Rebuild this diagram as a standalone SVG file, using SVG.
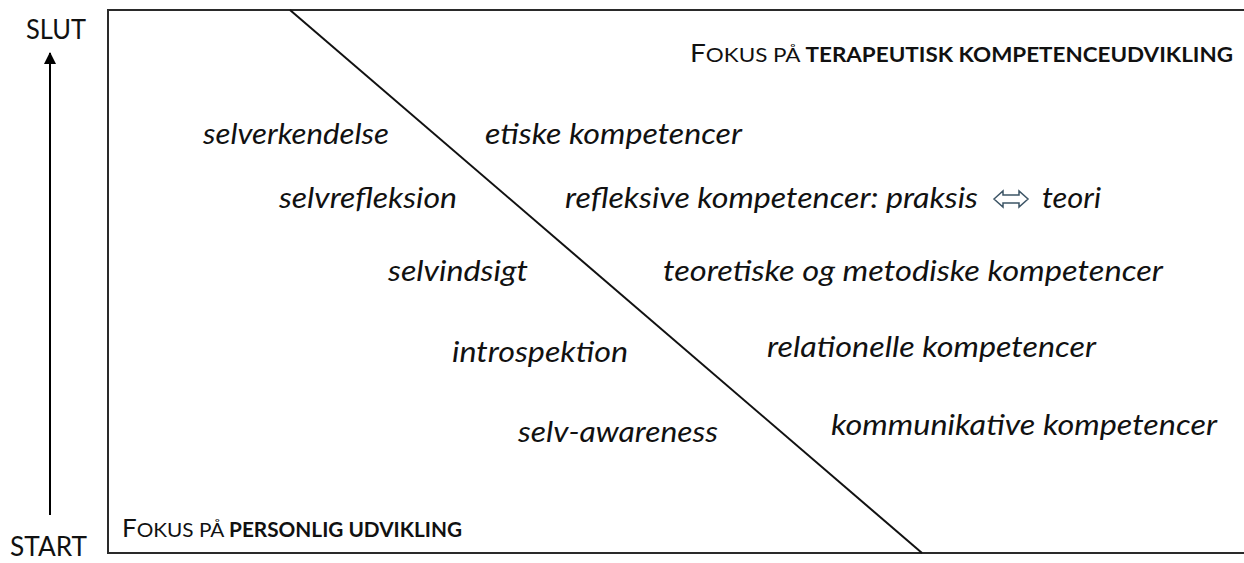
<svg xmlns="http://www.w3.org/2000/svg" width="1244" height="563" viewBox="0 0 1244 563">
<defs>
<style>
.lbl{font-family:Lato,"Open Sans","Liberation Sans",sans-serif;font-size:26px;fill:#111}
.it{font-family:Lato,"Open Sans","Liberation Sans",sans-serif;font-style:italic;font-size:28px;fill:#111}
.frame{fill:none;stroke:#2a2a2a;stroke-width:2}
.sc{font-family:Lato,"Open Sans","Liberation Sans",sans-serif;fill:#111}
</style>
<marker id="ah" markerWidth="12" markerHeight="12" refX="11" refY="6" orient="auto" markerUnits="userSpaceOnUse"><path d="M0,0 L12,6 L0,12 z" fill="#000"/></marker>
</defs>
<rect width="1244" height="563" fill="#fff"/>
<g id="connectors">
<path class="frame" d="M1244,10 H108 V553 H1244"/>
<line x1="290" y1="10" x2="922" y2="553" stroke="#111" stroke-width="2"/>
<line x1="50" y1="515" x2="50" y2="53" stroke="#000" stroke-width="2" marker-end="url(#ah)"/>
</g>
<g id="axis-labels">
<text class="lbl" x="26" y="39" textLength="60" lengthAdjust="spacingAndGlyphs">SLUT</text>
<text class="lbl" x="10" y="556" textLength="77" lengthAdjust="spacingAndGlyphs">START</text>
</g>
<g id="header-top">
<text class="sc" x="690" y="62" textLength="543" lengthAdjust="spacingAndGlyphs"><tspan font-size="25">F</tspan><tspan font-size="20">OKUS PÅ </tspan><tspan font-size="20" font-weight="bold">TERAPEUTISK KOMPETENCEUDVIKLING</tspan></text>
</g>
<g id="header-bottom">
<text class="sc" x="122" y="537" textLength="340" lengthAdjust="spacingAndGlyphs"><tspan font-size="25">F</tspan><tspan font-size="20">OKUS PÅ </tspan><tspan font-size="20" font-weight="bold">PERSONLIG UDVIKLING</tspan></text>
</g>
<g id="node-selverkendelse"><text class="it" x="203" y="144" textLength="186" lengthAdjust="spacingAndGlyphs">selverkendelse</text></g>
<g id="node-selvrefleksion"><text class="it" x="279" y="208" textLength="178" lengthAdjust="spacingAndGlyphs">selvrefleksion</text></g>
<g id="node-selvindsigt"><text class="it" x="388" y="281" textLength="140" lengthAdjust="spacingAndGlyphs">selvindsigt</text></g>
<g id="node-introspektion"><text class="it" x="452" y="362" textLength="176" lengthAdjust="spacingAndGlyphs">introspektion</text></g>
<g id="node-selv-awareness"><text class="it" x="518" y="442" textLength="200" lengthAdjust="spacingAndGlyphs">selv-awareness</text></g>
<g id="node-etiske"><text class="it" x="485" y="144" textLength="257" lengthAdjust="spacingAndGlyphs">etiske kompetencer</text></g>
<g id="node-refleksive">
<text class="it" x="565" y="208" textLength="413" lengthAdjust="spacingAndGlyphs">refleksive kompetencer: praksis</text>
<path d="M994,199 L1003,191 L1003,195 L1019,195 L1019,191 L1028,199 L1019,207 L1019,203 L1003,203 L1003,207 Z" fill="#fff" stroke="#3d5566" stroke-width="1.5" stroke-linejoin="miter"/>
<text class="it" x="1042" y="208" textLength="59" lengthAdjust="spacingAndGlyphs">teori</text>
</g>
<g id="node-teoretiske"><text class="it" x="663" y="281" textLength="500" lengthAdjust="spacingAndGlyphs">teoretiske og metodiske kompetencer</text></g>
<g id="node-relationelle"><text class="it" x="767" y="357" textLength="329" lengthAdjust="spacingAndGlyphs">relationelle kompetencer</text></g>
<g id="node-kommunikative"><text class="it" x="831" y="435" textLength="386" lengthAdjust="spacingAndGlyphs">kommunikative kompetencer</text></g>
</svg>
